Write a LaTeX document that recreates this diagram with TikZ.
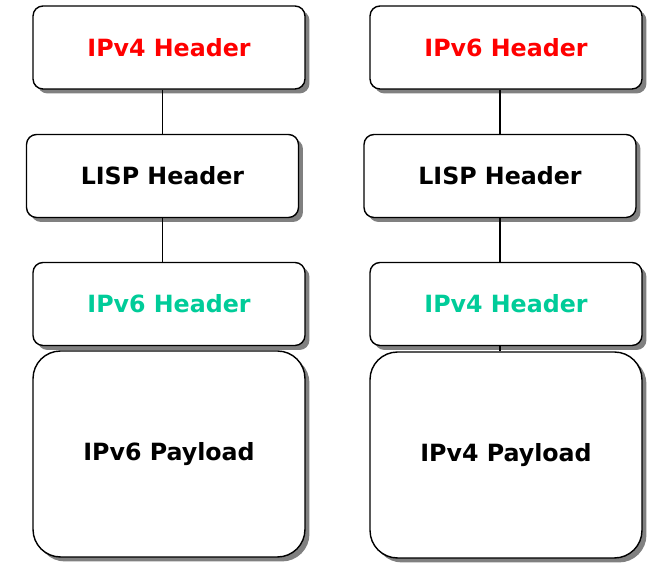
\documentclass[tikz,border=0pt]{standalone}
\usepackage{fontspec}
\setsansfont{DejaVu Sans}
\usetikzlibrary{positioning, shadows}

\definecolor{hdrred}{RGB}{255,0,0}
\definecolor{hdrgreen}{RGB}{0,204,153}

\begin{document}
\begin{tikzpicture}[
            x=0.02cm, y=-0.02cm,
            hdr/.style={draw, line width=0.8pt, fill=white, minimum width=5.44cm,
                        minimum height=1.66cm, rounded corners=0.2cm,
                        drop shadow={shadow xshift=0.09cm, shadow yshift=-0.09cm,
                                     fill=black!50, opacity=1},
                        font=\sffamily\bfseries\fontsize{13.5}{15}\selectfont},
            pay/.style={hdr, minimum height=4.12cm, rounded corners=0.55cm},
            link/.style={line width=0.8pt}
        ]
        \useasboundingbox (0,0) rectangle (650,563);

        % --- IPv6 in IPv4 ---
        \node[hdr, text=hdrred] (l1) at (169,47.5) {IPv4 Header};
        \node[hdr] (l2) at (162.5,176) {LISP Header};
        \node[hdr, text=hdrgreen] (l3) at (169,304) {IPv6 Header};
        \node[pay] (l4) at (169,454) {IPv6 Payload};
        \draw[link] (l2.north) -- (l2.north |- l1.south);
        \draw[link] (l2.south) -- (l2.south |- l3.north);

        % --- IPv4 in IPv6 ---
        \node[hdr, text=hdrred] (r1) at (506,47.5) {IPv6 Header};
        \node[hdr] (r2) at (500,176) {LISP Header};
        \node[hdr, text=hdrgreen] (r3) at (506,304) {IPv4 Header};
        \node[pay] (r4) at (506,455) {IPv4 Payload};
        \draw[link] (r2.north) -- (r2.north |- r1.south);
        \draw[link] (r2.south) -- (r2.south |- r3.north);
        \draw[link] (r3.south -| r2) -- (r4.north -| r2);
\end{tikzpicture}
\end{document}
